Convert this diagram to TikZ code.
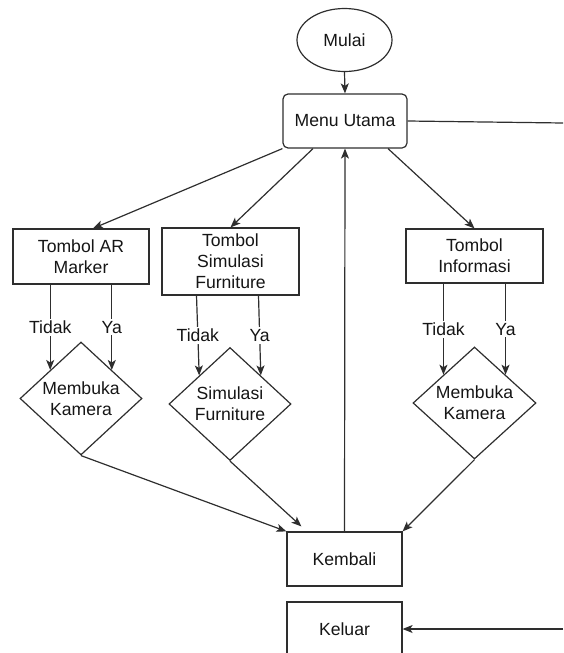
\documentclass[tikz,border=0pt]{standalone}
\usepackage{fontspec}
\setmainfont{Liberation Sans}
\usetikzlibrary{arrows.meta,positioning,shapes.geometric}
\definecolor{fc-garis}{HTML}{2E2E2E}
\definecolor{fc-teks}{HTML}{151515}

\begin{document}
\begin{tikzpicture}[>={Stealth[length=10pt,width=8pt,inset=2.5pt]},x=1pt,y=-1pt,
  every node/.style={font=\fontsize{17.6}{21}\selectfont,text=fc-teks,align=center},
  kotak/.style={draw=fc-garis,line width=1.2pt,minimum width=136pt,minimum height=55pt},
  belah/.style={draw=fc-garis,line width=1.2pt,diamond,inner sep=0pt,minimum width=122pt,minimum height=113pt},
  garis/.style={fc-garis,line width=1.2pt},
  ket/.style={fill=white,inner sep=2pt}]
  \useasboundingbox (0,0) rectangle (563,653);
  \clip (0,0) rectangle (563,653);

  % Mulai dan menu
  \node[draw=fc-garis,line width=1.2pt,ellipse,minimum width=95pt,minimum height=63pt] (mulai) at (344.5,40) {Mulai};
  \node[kotak,rounded corners=5pt,minimum width=124pt,minimum height=54pt] (menu) at (345,121) {Menu Utama};

  % Tombol
  \node[kotak] (ar) at (81,256.5) {Tombol AR\\Marker};
  \node[kotak,minimum width=137pt,minimum height=67pt] (sim) at (230.5,261.5) {Tombol\\Simulasi\\Furniture};
  \node[kotak,minimum width=137pt,minimum height=54pt] (info) at (474.5,256) {Tombol\\Informasi};

  % Keputusan
  \node[belah] (kamA) at (81,398.5) {Membuka\\Kamera};
  \node[belah] (simF) at (230,404) {Simulasi\\Furniture};
  \node[belah,minimum width=123pt,minimum height=112pt] (kamB) at (474.5,403) {Membuka\\Kamera};

  % Kembali dan keluar
  \node[kotak,minimum width=115pt,minimum height=54pt] (kembali) at (344.5,559) {Kembali};
  \node[kotak,minimum width=115pt,minimum height=54pt] (keluar) at (344.5,629) {Keluar};
  \coordinate (tepiA) at (563,123);
  \coordinate (tepiB) at (563,629);

  % Panah dari menu
  \draw[garis,->] (mulai.south) -- (menu.north);
  \draw[garis,->] (menu.south west) -- ([xshift=12pt]ar.north);
  \draw[garis,->] ([xshift=-32pt]menu.south) -- (sim.north);
  \draw[garis,->] ([xshift=43pt]menu.south) -- (info.north);
  \draw[garis] (menu.east) -- (tepiA);

  % Tidak / Ya
  \draw[garis,->] (ar.south -| kamA.north west) -- node[ket] {Tidak} (kamA.north west);
  \draw[garis,->] (ar.south -| kamA.north east) -- node[ket] {Ya} (kamA.north east);
  \draw[garis,->] ([xshift=-34pt]sim.south) -- node[ket] {Tidak} (simF.north west);
  \draw[garis,->] ([xshift=28pt]sim.south) -- node[ket] {Ya} (simF.north east);
  \draw[garis,->] (info.south -| kamB.north west) -- node[ket] {Tidak} (kamB.north west);
  \draw[garis,->] (info.south -| kamB.north east) -- node[ket] {Ya} (kamB.north east);

  % Ke kembali
  \draw[garis,->] (kamA.south) -- (kembali.north west);
  \draw[garis,->] (simF.south) -- ([xshift=15pt,yshift=5pt]kembali.north west);
  \draw[garis,->] (kamB.south) -- (kembali.north east);
  \draw[garis,->] (kembali.north) -- (menu.south);
  \draw[garis,->] (tepiB) -- (keluar.east);
\end{tikzpicture}
\end{document}
